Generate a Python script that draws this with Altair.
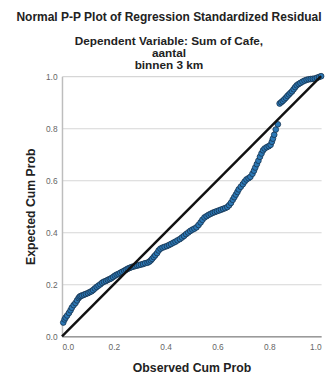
import altair as alt
import pandas as pd

obs = [0.005,0.010,0.014,0.020,0.027,0.033,0.038,0.045,0.052,0.058,0.064,0.068,0.072,0.078,0.085,0.092,0.100,0.107,0.114,0.120,
       0.127,0.134,0.141,0.148,0.155,0.162,0.170,0.177,0.184,0.190,0.197,0.204,0.211,0.218,0.225,0.232,0.240,0.247,0.254,0.261,
       0.268,0.275,0.282,0.290,0.297,0.305,0.313,0.321,0.330,0.337,0.343,0.348,0.354,0.360,0.367,0.373,0.380,0.388,0.396,0.405,
       0.413,0.421,0.430,0.438,0.446,0.455,0.463,0.471,0.479,0.487,0.495,0.503,0.511,0.519,0.527,0.535,0.542,0.550,0.558,0.566,
       0.574,0.582,0.590,0.598,0.606,0.614,0.622,0.630,0.638,0.645,0.652,0.659,0.665,0.671,0.677,0.682,0.690,0.698,0.705,0.712,
       0.720,0.727,0.735,0.741,0.746,0.752,0.758,0.764,0.770,0.776,0.782,0.790,0.798,0.805,0.810,0.814,0.819,0.825,0.833,
       0.840,0.846,0.852,0.858,0.864,0.870,0.876,0.882,0.888,0.894,0.900,0.906,0.913,0.920,0.928,0.936,0.944,0.952,0.960,0.968,
       0.976,0.984,0.992,1.000]
exp = [0.053,0.065,0.072,0.080,0.090,0.100,0.110,0.120,0.128,0.138,0.147,0.152,0.155,0.157,0.160,0.163,0.166,0.170,0.173,0.178,
       0.184,0.190,0.195,0.200,0.206,0.210,0.213,0.217,0.220,0.223,0.228,0.233,0.237,0.240,0.244,0.248,0.252,0.256,0.260,0.263,
       0.266,0.268,0.270,0.272,0.274,0.276,0.278,0.281,0.283,0.287,0.292,0.298,0.305,0.312,0.320,0.330,0.337,0.341,0.344,0.347,
       0.351,0.355,0.360,0.364,0.369,0.374,0.380,0.386,0.393,0.399,0.405,0.410,0.414,0.419,0.428,0.438,0.448,0.457,0.462,0.467,
       0.471,0.475,0.478,0.481,0.484,0.487,0.490,0.493,0.497,0.504,0.513,0.525,0.535,0.545,0.555,0.565,0.575,0.585,0.595,0.603,
       0.608,0.613,0.625,0.637,0.649,0.662,0.675,0.690,0.703,0.715,0.722,0.727,0.731,0.736,0.748,0.760,0.775,0.795,0.815,
       0.895,0.900,0.905,0.911,0.917,0.924,0.930,0.936,0.942,0.950,0.958,0.965,0.970,0.974,0.979,0.983,0.986,0.988,0.989,0.990,
       0.991,0.994,0.997,1.000]

ref_x = [0.0, 1.0]
ref_y = [0.0, 1.0]
ticks = [0.0, 0.2, 0.4, 0.6, 0.8, 1.0]

pts = pd.DataFrame({"obs": obs, "exp": exp})
ref = pd.DataFrame({"obs": ref_x, "exp": ref_y})

FONT = "Liberation Sans"

xenc = alt.X("obs:Q", scale=alt.Scale(domain=[0, 1], nice=False, zero=False),
             axis=alt.Axis(title="Observed Cum Prob", values=ticks, format=".1f", grid=False,
                           ticks=False, labelPadding=6, titlePadding=11,
                           domainColor="#9a9a9a", domainWidth=1.5,
                           labelFontSize=8.5, labelColor="#666666", labelFont=FONT,
                           titleFont=FONT, titleFontSize=12.5, titleFontWeight="bold", titleColor="#222222"))
yenc = alt.Y("exp:Q", scale=alt.Scale(domain=[0, 1], nice=False, zero=False),
             axis=alt.Axis(title="Expected Cum Prob", values=ticks, format=".1f", grid=True,
                           gridColor="#d6d6d6", gridWidth=1.2,
                           ticks=False, labelPadding=5, titlePadding=8,
                           domainColor="#bdbdbd", domainWidth=1.5,
                           labelFontSize=8.5, labelColor="#666666", labelFont=FONT,
                           titleFont=FONT, titleFontSize=12.5, titleFontWeight="bold", titleColor="#222222"))

line = alt.Chart(ref).mark_line(color="#111111", strokeWidth=2.5).encode(x=xenc, y=yenc)
points = alt.Chart(pts).mark_circle(size=34, opacity=1, color="#2b78b6",
                                     stroke="#17324d", strokeWidth=0.8).encode(x="obs:Q", y="exp:Q")

chart = alt.layer(points, line).properties(
    width=264, height=265,
    autosize=alt.AutoSizeParams(type="none"),
    padding={"left": 55, "top": 66, "right": 6, "bottom": 40},
    title=alt.TitleParams(
        text="Normal P-P Plot of Regression Standardized Residual",
        subtitle=["Dependent Variable: Sum of Cafe,", "aantal", "binnen 3 km"],
        font=FONT, fontSize=12.2, fontWeight="bold", color="#222222",
        subtitleFont=FONT, subtitleFontSize=12, subtitleFontWeight="bold", subtitleColor="#222222",
        subtitleLineHeight=12.5, subtitlePadding=13,
        anchor="middle", frame="group", dx=-23, offset=0),
).configure_view(stroke=None)

chart.save("out.html", embed_options={"renderer": "svg", "actions": False})
